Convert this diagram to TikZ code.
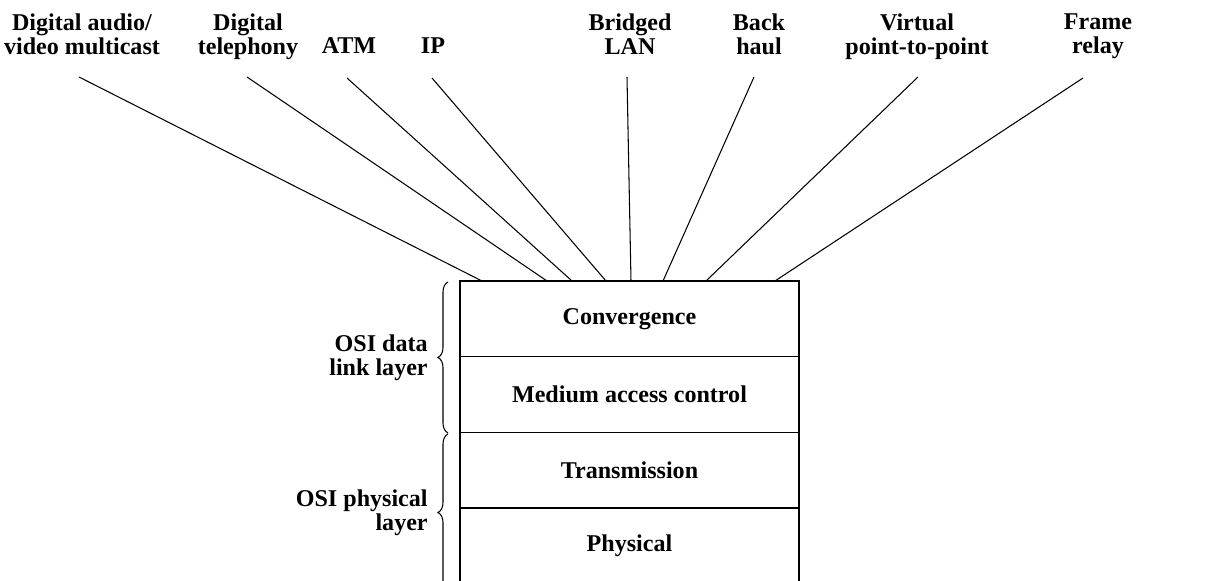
\documentclass[tikz,border=0pt]{standalone}
\usepackage{fontspec}
\setmainfont{Liberation Serif}
\usetikzlibrary{positioning, decorations.pathreplacing}

\begin{document}
\begin{tikzpicture}[
    x=0.02cm, y=-0.02cm,
    lbl/.style={font=\fontsize{13.7}{13.7}\selectfont\bfseries, align=center, inner sep=0pt, anchor=north},
    layerbox/.style={draw, line width=0.9pt, minimum width=6.78cm, minimum height=1.514cm, inner sep=0pt, outer sep=0pt, font=\fontsize{13.7}{13.7}\selectfont\bfseries},
    feed/.style={line width=0.6pt},
    osibrace/.style={decorate, decoration={brace, amplitude=0.2cm}, line width=0.6pt},
]
    \useasboundingbox (0,0) rectangle (1215,581);
    \clip (0,0) rectangle (1215,581);

    % Layer stack
    \node[layerbox] (conv) at (629.5, 318.85) {Convergence};
    \node[layerbox, below=0pt of conv] (mac) {Medium access control};
    \node[layerbox, below=0pt of mac] (trans) {Transmission};
    \node[layerbox, below=0pt of trans] (phys) {Physical};

    % Services on top
    \node[lbl] (dam) at (82, 13) {Digital audio/\\video multicast};
    \node[lbl] (dtel) at (248, 13) {Digital\\telephony};
    \node[lbl] (atm) at (349, 37) {ATM};
    \node[lbl] (ip) at (433, 37) {IP};
    \node[lbl] (blan) at (630, 13) {Bridged\\LAN};
    \node[lbl] (bh) at (759, 13) {Back\\haul};
    \node[lbl] (vpp) at (917, 13) {Virtual\\point-to-point};
    \node[lbl] (fr) at (1098, 13) {Frame\\relay};

    % Feed lines into the convergence layer
    \coordinate (dam-t) at (79, 77);    \coordinate (dam-b) at (482, 281);
    \coordinate (dtel-t) at (247, 77);  \coordinate (dtel-b) at (547, 281);
    \coordinate (atm-t) at (347, 78);   \coordinate (atm-b) at (572, 281);
    \coordinate (ip-t) at (432, 78);    \coordinate (ip-b) at (606, 281);
    \coordinate (blan-t) at (627, 77);  \coordinate (blan-b) at (631, 281);
    \coordinate (bh-t) at (754, 77);    \coordinate (bh-b) at (663, 281);
    \coordinate (vpp-t) at (918, 77);   \coordinate (vpp-b) at (706, 281);
    \coordinate (fr-t) at (1083, 78);   \coordinate (fr-b) at (775, 281);

    \draw[feed] (dam-t) -- (dam-b);
    \draw[feed] (dtel-t) -- (dtel-b);
    \draw[feed] (atm-t) -- (atm-b);
    \draw[feed] (ip-t) -- (ip-b);
    \draw[feed] (blan-t) -- (blan-b);
    \draw[feed] (bh-t) -- (bh-b);
    \draw[feed] (vpp-t) -- (vpp-b);
    \draw[feed] (fr-t) -- (fr-b);

    % OSI braces
    \coordinate (dl-top) at (448, 282);  \coordinate (dl-bot) at (448, 433);
    \coordinate (ph-top) at (448, 434);  \coordinate (ph-bot) at (448, 591);
    \draw[osibrace] (dl-bot) -- (dl-top);
    \draw[osibrace] (ph-bot) -- (ph-top);
    \node[lbl, anchor=east, align=right] (dll) at (428, 358) {OSI data\\link layer};
    \node[lbl, anchor=east, align=right] (phl) at (428, 513) {OSI physical\\layer};
\end{tikzpicture}
\end{document}
